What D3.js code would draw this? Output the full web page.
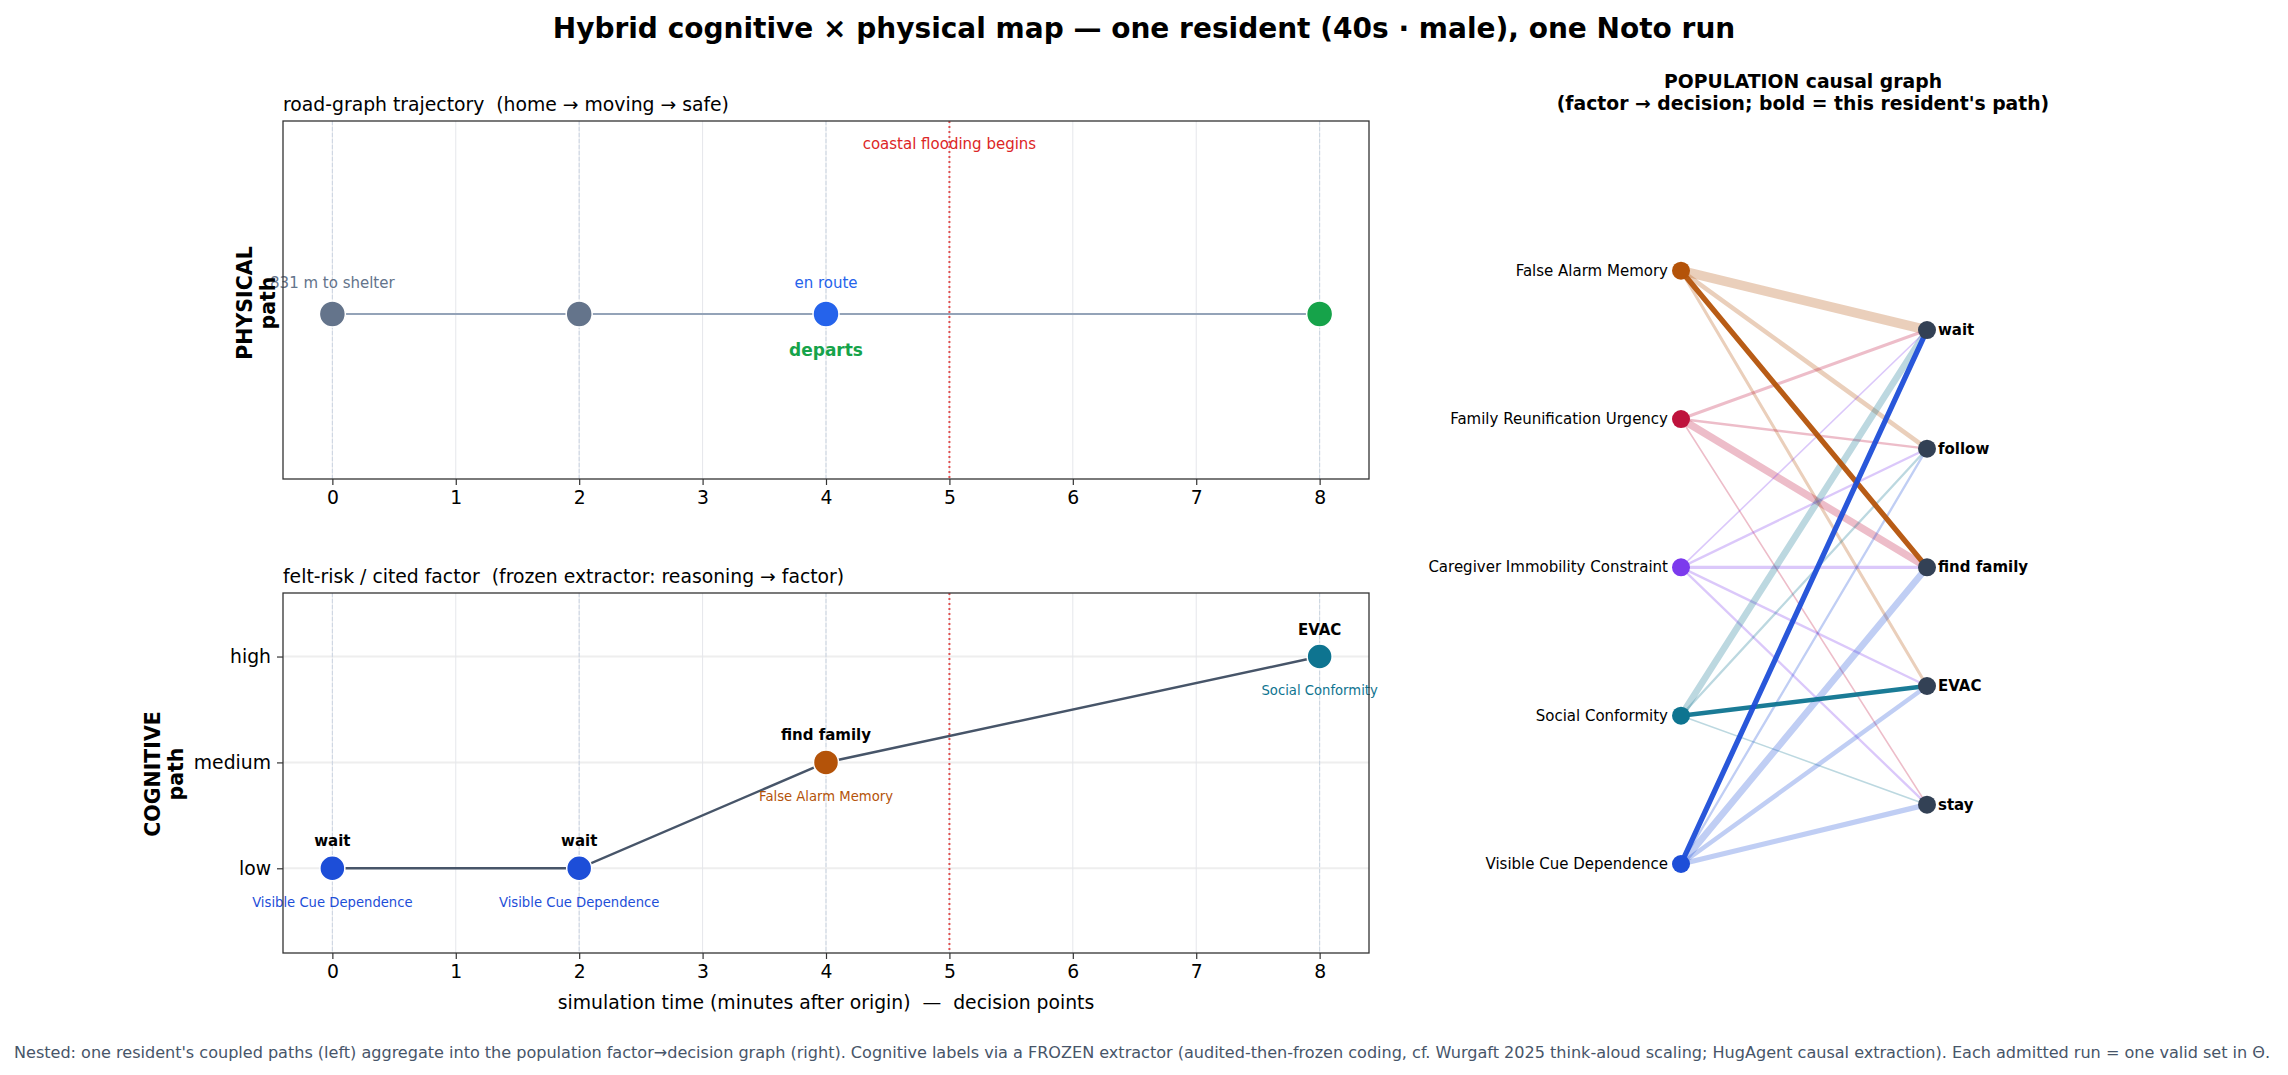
<!DOCTYPE html>
<html>
<head>
<meta charset="utf-8">
<script src="https://cdn.jsdelivr.net/npm/d3@7"></script>
<style>
  html, body { margin: 0; padding: 0; background: #fff; }
  svg text { font-family: "DejaVu Sans", sans-serif; white-space: pre; }
</style>
</head>
<body>
<svg id="chart" width="2288" height="1075"></svg>
<script>
// ---------------- DATA ----------------
const xTicks = [0, 1, 2, 3, 4, 5, 6, 7, 8];
const decisionTimes = [0, 2, 4, 8];
const floodTime = 5;

// physical path
const physT = [0, 2, 4, 8];
const physState = ["home", "home", "moving", "safe"];
const physAbove = ["831 m to shelter", "", "en route", ""];
const physBelow = ["", "", "departs", ""];

// cognitive path
const cogT = [0, 2, 4, 8];
const cogRisk = ["low", "low", "medium", "high"];
const cogDecision = ["wait", "wait", "find family", "EVAC"];
const cogFactor = ["Visible Cue Dependence", "Visible Cue Dependence", "False Alarm Memory", "Social Conformity"];
const riskLevels = ["low", "medium", "high"];

// population causal graph
const factors = ["False Alarm Memory", "Family Reunification Urgency", "Caregiver Immobility Constraint", "Social Conformity", "Visible Cue Dependence"];
const factorColors = ["#b45309", "#be123c", "#7c3aed", "#0e7490", "#1d4ed8"];
const decisions = ["wait", "follow", "find family", "EVAC", "stay"];
const edgeFactor   = ["False Alarm Memory","False Alarm Memory","False Alarm Memory","False Alarm Memory",
                      "Family Reunification Urgency","Family Reunification Urgency","Family Reunification Urgency","Family Reunification Urgency",
                      "Caregiver Immobility Constraint","Caregiver Immobility Constraint","Caregiver Immobility Constraint","Caregiver Immobility Constraint","Caregiver Immobility Constraint",
                      "Social Conformity","Social Conformity","Social Conformity","Social Conformity",
                      "Visible Cue Dependence","Visible Cue Dependence","Visible Cue Dependence","Visible Cue Dependence","Visible Cue Dependence"];
const edgeDecision = ["wait","follow","find family","EVAC",
                      "wait","follow","find family","stay",
                      "wait","follow","find family","EVAC","stay",
                      "wait","follow","EVAC","stay",
                      "wait","follow","find family","EVAC","stay"];
const edgeCount    = [12, 5, 5, 3,
                      3, 2, 9, 1,
                      1, 2, 3, 2, 2,
                      8, 2, 4, 1,
                      5, 2, 8, 5, 6];
// this resident's path (factor -> decision)
const residentFactor = ["Visible Cue Dependence", "False Alarm Memory", "Social Conformity"];
const residentDecision = ["wait", "find family", "EVAC"];

const stateColor = { home: "#64748b", moving: "#2563eb", safe: "#16a34a" };

// ---------------- DRAW ----------------
const svg = d3.select("#chart");
const W = 2288, H = 1075;
const FS = 18.8; // base (10pt) font size

svg.append("text").attr("x", W / 2).attr("y", 28).attr("text-anchor", "middle")
  .attr("dominant-baseline", "central").attr("font-size", 28).attr("font-weight", "bold")
  .attr("fill", "#000").text("Hybrid cognitive × physical map — one resident (40s · male), one Noto run");

const L = 283, R = 1369;
const x = d3.scaleLinear().domain([-0.4, 8.4]).range([L, R]);

function panelBase(g, top, bottom, title) {
  g.selectAll(".vg").data(xTicks).join("line")
    .attr("x1", d => x(d)).attr("x2", d => x(d)).attr("y1", top).attr("y2", bottom)
    .attr("stroke", "#e5e7eb").attr("stroke-width", 1);
  g.selectAll(".dp").data(decisionTimes).join("line")
    .attr("x1", d => x(d)).attr("x2", d => x(d)).attr("y1", top).attr("y2", bottom)
    .attr("stroke", "#cbd5e1").attr("stroke-width", 1).attr("stroke-dasharray", "4,2");
  g.append("line").attr("x1", x(floodTime)).attr("x2", x(floodTime)).attr("y1", top).attr("y2", bottom)
    .attr("stroke", "#dc2626").attr("stroke-opacity", 0.8).attr("stroke-width", 2).attr("stroke-dasharray", "2,3");
  g.append("text").attr("x", L).attr("y", top - 10).attr("font-size", FS).attr("fill", "#000").text(title);
}

function frameAndXAxis(g, top, bottom) {
  const ax = d3.axisBottom(x).tickValues(xTicks).tickFormat(d3.format("d")).tickSize(6).tickPadding(6);
  const a = g.append("g").attr("transform", `translate(0,${bottom})`).call(ax);
  a.select(".domain").remove();
  a.selectAll("line").attr("stroke", "#333").attr("stroke-width", 1.2);
  a.selectAll("text").attr("font-size", FS).attr("fill", "#000").attr("font-family", "DejaVu Sans");
  g.append("rect").attr("x", L).attr("y", top).attr("width", R - L).attr("height", bottom - top)
    .attr("fill", "none").attr("stroke", "#333").attr("stroke-width", 1.3);
}

// ---- physical panel ----
{
  const top = 121, bottom = 479;
  const y = d3.scaleLinear().domain([-1, 1.17]).range([bottom, top]);
  const g = svg.append("g");
  panelBase(g, top, bottom, "road-graph trajectory  (home → moving → safe)");
  g.append("text").attr("x", x(floodTime)).attr("y", 144).attr("text-anchor", "middle")
    .attr("dominant-baseline", "central").attr("font-size", 15).attr("fill", "#dc2626")
    .text("coastal flooding begins");
  const pts = physT.map((t, i) => ({ t, s: physState[i], a: physAbove[i], b: physBelow[i] }));
  g.append("path").datum(pts)
    .attr("d", d3.line().x(d => x(d.t)).y(() => y(0)))
    .attr("fill", "none").attr("stroke", "#94a3b8").attr("stroke-width", 2);
  g.selectAll(".pn").data(pts).join("circle")
    .attr("cx", d => x(d.t)).attr("cy", y(0)).attr("r", 13)
    .attr("fill", d => stateColor[d.s]).attr("stroke", "#fff").attr("stroke-width", 1.5);
  g.selectAll(".pa").data(pts.filter(d => d.a)).join("text")
    .attr("x", d => x(d.t)).attr("y", y(0) - 31).attr("text-anchor", "middle")
    .attr("dominant-baseline", "central").attr("font-size", 15)
    .attr("fill", d => stateColor[d.s]).text(d => d.a);
  g.selectAll(".pb").data(pts.filter(d => d.b)).join("text")
    .attr("x", d => x(d.t)).attr("y", y(0) + 36).attr("text-anchor", "middle")
    .attr("dominant-baseline", "central").attr("font-size", 17).attr("font-weight", "bold")
    .attr("fill", stateColor.safe).text(d => d.b);
  frameAndXAxis(g, top, bottom);
  const yl = g.append("text").attr("transform", "translate(255,303) rotate(-90)")
    .attr("text-anchor", "middle").attr("font-size", 20.5).attr("font-weight", "bold").attr("fill", "#000");
  yl.append("tspan").attr("x", 0).attr("dy", "-0.15em").text("PHYSICAL");
  yl.append("tspan").attr("x", 0).attr("dy", "1.15em").text("path");
}

// ---- cognitive panel ----
{
  const top = 593, bottom = 953;
  const y = d3.scaleLinear().domain([-0.8, 2.6]).range([bottom, top]);
  const g = svg.append("g");
  g.selectAll(".hg").data(riskLevels).join("line")
    .attr("x1", L).attr("x2", R).attr("y1", (d, i) => y(i)).attr("y2", (d, i) => y(i))
    .attr("stroke", "#eeeeee").attr("stroke-width", 2);
  panelBase(g, top, bottom, "felt-risk / cited factor  (frozen extractor: reasoning → factor)");
  const fcol = f => factorColors[factors.indexOf(f)];
  const pts = cogT.map((t, i) => ({ t, r: riskLevels.indexOf(cogRisk[i]), d: cogDecision[i], f: cogFactor[i] }));
  g.append("path").datum(pts)
    .attr("d", d3.line().x(d => x(d.t)).y(d => y(d.r)))
    .attr("fill", "none").attr("stroke", "#475569").attr("stroke-width", 2.5);
  g.selectAll(".cn").data(pts).join("circle")
    .attr("cx", d => x(d.t)).attr("cy", d => y(d.r)).attr("r", 12.5)
    .attr("fill", d => fcol(d.f)).attr("stroke", "#fff").attr("stroke-width", 1.5);
  g.selectAll(".cd").data(pts).join("text")
    .attr("x", d => x(d.t)).attr("y", d => y(d.r) - 27).attr("text-anchor", "middle")
    .attr("dominant-baseline", "central").attr("font-size", 15).attr("font-weight", "bold")
    .attr("fill", "#000").text(d => d.d);
  g.selectAll(".cf").data(pts).join("text")
    .attr("x", d => x(d.t)).attr("y", d => y(d.r) + 34).attr("text-anchor", "middle")
    .attr("dominant-baseline", "central").attr("font-size", 13.2)
    .attr("fill", d => fcol(d.f)).text(d => d.f);
  frameAndXAxis(g, top, bottom);
  const ay = d3.axisLeft(y).tickValues([0, 1, 2]).tickFormat(i => riskLevels[i]).tickSize(6).tickPadding(6);
  const a = g.append("g").attr("transform", `translate(${L},0)`).call(ay);
  a.select(".domain").remove();
  a.selectAll("line").attr("stroke", "#333").attr("stroke-width", 1.2);
  a.selectAll("text").attr("font-size", FS).attr("fill", "#000").attr("font-family", "DejaVu Sans");
  g.append("text").attr("x", (L + R) / 2).attr("y", 1002).attr("text-anchor", "middle")
    .attr("dominant-baseline", "central").attr("font-size", FS).attr("fill", "#000")
    .text("simulation time (minutes after origin)  —  decision points");
  const yl = g.append("text").attr("transform", "translate(163,774) rotate(-90)")
    .attr("text-anchor", "middle").attr("font-size", 20.5).attr("font-weight", "bold").attr("fill", "#000");
  yl.append("tspan").attr("x", 0).attr("dy", "-0.15em").text("COGNITIVE");
  yl.append("tspan").attr("x", 0).attr("dy", "1.15em").text("path");
}

// ---- population causal graph ----
{
  const g = svg.append("g");
  const gx = d3.scaleLinear().domain([0, 1]).range([1681, 1927]);
  const gy = d3.scaleLinear().domain([0, 1]).range([864, 270.7]);
  const fy = d3.scalePoint().domain(factors).range([1, 0]);
  const dy = d3.scalePoint().domain(decisions).range([0.9, 0.1]);
  const wScale = d3.scaleLinear().domain([1, 12]).range([1.6, 9.6]);
  const fcol = f => factorColors[factors.indexOf(f)];

  const t = g.append("text").attr("x", 1803).attr("text-anchor", "middle").attr("font-size", FS)
    .attr("font-weight", "bold").attr("fill", "#000");
  t.append("tspan").attr("x", 1803).attr("y", 88).text("POPULATION causal graph");
  t.append("tspan").attr("x", 1803).attr("y", 110).text("(factor → decision; bold = this resident's path)");

  const edges = edgeFactor.map((f, i) => ({ f, d: edgeDecision[i], c: edgeCount[i],
    bold: residentFactor.some((rf, j) => rf === f && residentDecision[j] === edgeDecision[i]) }));

  g.selectAll(".le").data(edges.filter(e => !e.bold)).join("line")
    .attr("x1", gx(0)).attr("y1", e => gy(fy(e.f))).attr("x2", gx(1)).attr("y2", e => gy(dy(e.d)))
    .attr("stroke", e => fcol(e.f)).attr("stroke-opacity", 0.28).attr("stroke-width", e => wScale(e.c))
    .attr("stroke-linecap", "round");
  g.selectAll(".be").data(edges.filter(e => e.bold)).join("line")
    .attr("x1", gx(0)).attr("y1", e => gy(fy(e.f))).attr("x2", gx(1)).attr("y2", e => gy(dy(e.d)))
    .attr("stroke", e => fcol(e.f)).attr("stroke-opacity", 0.95).attr("stroke-width", e => wScale(e.c) + 0.8)
    .attr("stroke-linecap", "round");

  g.selectAll(".fn").data(factors).join("circle")
    .attr("cx", gx(0)).attr("cy", f => gy(fy(f))).attr("r", 9).attr("fill", f => fcol(f));
  g.selectAll(".fl").data(factors).join("text")
    .attr("x", gx(0) - 13).attr("y", f => gy(fy(f))).attr("text-anchor", "end")
    .attr("dominant-baseline", "central").attr("font-size", 15).attr("fill", "#000").text(f => f);
  g.selectAll(".dn").data(decisions).join("circle")
    .attr("cx", gx(1)).attr("cy", d => gy(dy(d))).attr("r", 9).attr("fill", "#334155");
  g.selectAll(".dl").data(decisions).join("text")
    .attr("x", gx(1) + 11).attr("y", d => gy(dy(d))).attr("text-anchor", "start")
    .attr("dominant-baseline", "central").attr("font-size", 15).attr("font-weight", "bold")
    .attr("fill", "#000").text(d => d);
}

// footer
svg.append("text").attr("x", 14).attr("y", 1052).attr("dominant-baseline", "central")
  .attr("font-size", 16.1).attr("fill", "#475569")
  .attr("textLength", 2256).attr("lengthAdjust", "spacing")
  .text("Nested: one resident's coupled paths (left) aggregate into the population factor→decision graph (right). Cognitive labels via a FROZEN extractor (audited-then-frozen coding, cf. Wurgaft 2025 think-aloud scaling; HugAgent causal extraction). Each admitted run = one valid set in Θ.");
</script>
</body>
</html>
